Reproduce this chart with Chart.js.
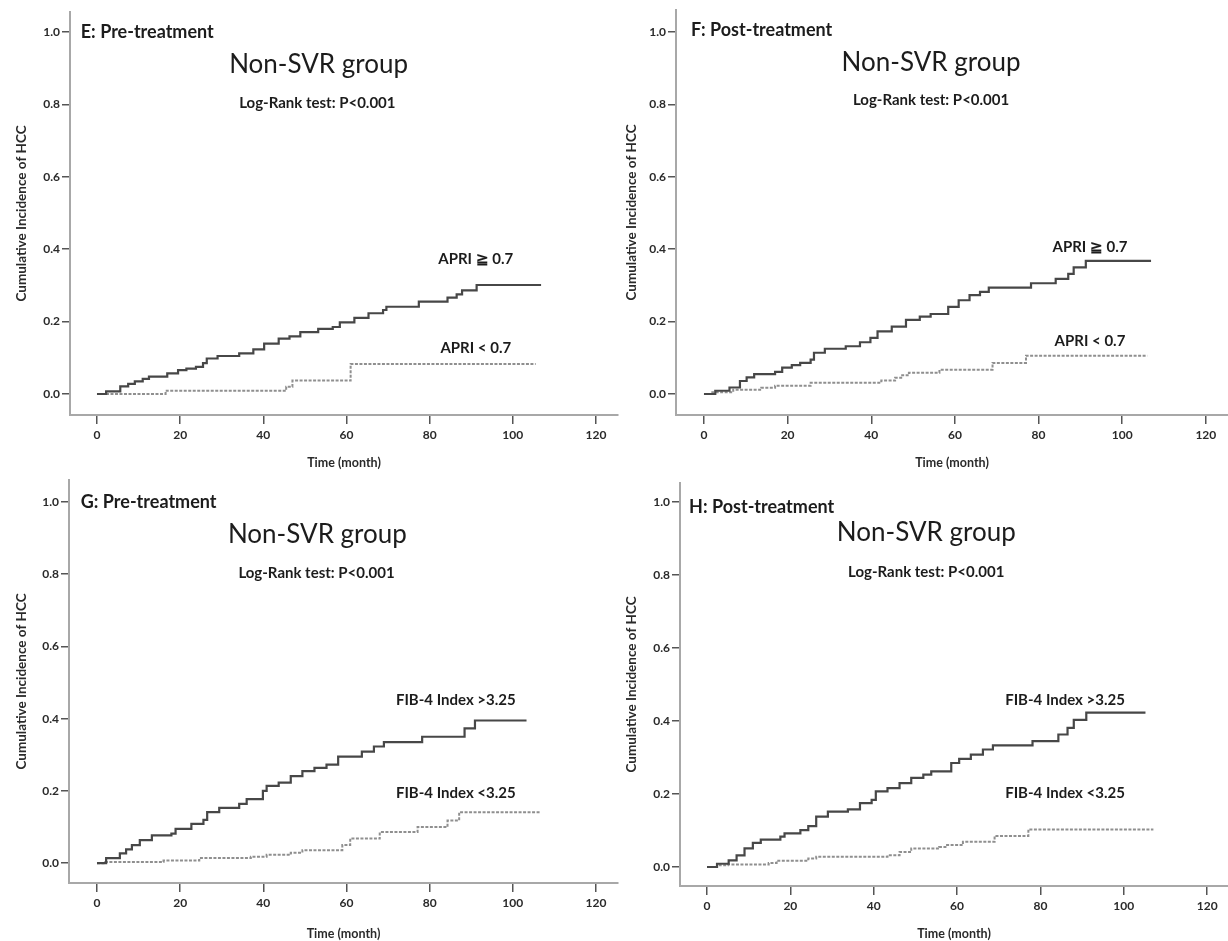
<!DOCTYPE html>
<html>
<head>
<meta charset="utf-8">
<script src="https://cdn.jsdelivr.net/npm/chart.js@4.4.1/dist/chart.umd.min.js"></script>
<style>
  body { margin: 0; background: #fff; }
  .panel { position: absolute; }
</style>
</head>
<body>
<canvas id="panelE" class="panel" width="620" height="470" style="left:0;top:0"></canvas>
<canvas id="panelF" class="panel" width="618" height="470" style="left:610px;top:0"></canvas>
<canvas id="panelG" class="panel" width="620" height="471" style="left:0;top:470px"></canvas>
<canvas id="panelH" class="panel" width="618" height="471" style="left:610px;top:470px"></canvas>
<script>
// tick labels shared by all panels
const xTicks = [0, 20, 40, 60, 80, 100, 120];
const yTicks = [0, 0.2, 0.4, 0.6, 0.8, 1.0];

// E: pre-treatment APRI
const apriHighPreT = [0, 2.2, 5.6, 7.5, 9.1, 11, 12.5, 16.9, 19.5, 21.5, 23.8, 25.5, 26.4, 29, 34.2, 37.6, 40.2, 43.7, 46.3, 48.9, 53.2, 56.7, 58.4, 61.9, 65.3, 68.8, 69.6, 77.4, 84.3, 86.5, 87.8, 91.3, 106.8];
const apriHighPreV = [0, 0.007, 0.021, 0.028, 0.035, 0.042, 0.048, 0.057, 0.066, 0.07, 0.075, 0.085, 0.098, 0.105, 0.112, 0.123, 0.139, 0.153, 0.159, 0.171, 0.18, 0.185, 0.198, 0.21, 0.223, 0.232, 0.241, 0.255, 0.266, 0.275, 0.286, 0.301, 0.301];
const apriLowPreT = [0, 16.5, 45.5, 47, 61, 105.5];
const apriLowPreV = [0, 0.009, 0.02, 0.037, 0.083, 0.083];

// F: post-treatment APRI
const apriHighPostT = [0, 2.7, 6.1, 8.6, 10.2, 12, 17, 18.7, 21, 23, 25.5, 26.3, 28.9, 33.9, 37.3, 39.8, 41.5, 44.9, 48.3, 51.6, 54.2, 58.4, 60.9, 63.5, 66, 68.1, 78.2, 84.1, 87.1, 88.4, 91.3, 106.9];
const apriHighPostV = [0, 0.009, 0.018, 0.036, 0.046, 0.055, 0.061, 0.073, 0.08, 0.086, 0.095, 0.114, 0.125, 0.132, 0.143, 0.155, 0.173, 0.186, 0.205, 0.214, 0.221, 0.241, 0.259, 0.273, 0.282, 0.294, 0.306, 0.318, 0.332, 0.35, 0.368, 0.368];
const apriLowPostT = [0, 2, 7, 13.7, 17, 25.5, 42.4, 45.7, 47.4, 49, 56.3, 69, 77, 106];
const apriLowPostV = [0, 0.005, 0.012, 0.017, 0.023, 0.031, 0.037, 0.045, 0.052, 0.059, 0.067, 0.086, 0.106, 0.106];

// G: pre-treatment FIB-4
const fibHighPreT = [0, 2.2, 5.5, 7, 8.4, 10.3, 13.2, 17.9, 18.9, 22.7, 25.6, 26.5, 29.4, 34.2, 36, 39.9, 40.8, 43.7, 46.6, 49.4, 52.3, 55.2, 58, 63.7, 66.6, 69, 78.2, 88.4, 90.9, 103.3];
const fibHighPreV = [0, 0.014, 0.027, 0.038, 0.05, 0.064, 0.077, 0.082, 0.095, 0.109, 0.12, 0.141, 0.153, 0.164, 0.177, 0.2, 0.214, 0.223, 0.241, 0.255, 0.264, 0.273, 0.295, 0.309, 0.323, 0.335, 0.35, 0.373, 0.395, 0.395];
const fibLowPreT = [0, 2, 16, 24.6, 37, 40.8, 46.6, 49.4, 59, 60.9, 68, 77.1, 84.3, 87.1, 106.7];
const fibLowPreV = [0, 0.003, 0.007, 0.014, 0.018, 0.023, 0.029, 0.036, 0.05, 0.068, 0.086, 0.1, 0.118, 0.141, 0.141];

// H: post-treatment FIB-4
const fibHighPostT = [0, 2.4, 5.2, 7.1, 9, 11, 12.9, 17.6, 18.6, 22.4, 24.3, 26.2, 29, 33.8, 36.7, 39.5, 40.5, 43.3, 46.2, 49, 51.9, 53.8, 58.6, 60.5, 63.3, 66.2, 68.6, 78.1, 84.3, 86.5, 88, 91, 105.2];
const fibHighPostV = [0, 0.009, 0.018, 0.032, 0.051, 0.066, 0.075, 0.083, 0.092, 0.101, 0.112, 0.138, 0.152, 0.158, 0.175, 0.184, 0.207, 0.216, 0.23, 0.244, 0.253, 0.262, 0.285, 0.296, 0.308, 0.322, 0.333, 0.345, 0.363, 0.381, 0.403, 0.423, 0.423];
const fibLowPostT = [0, 2.4, 5, 14.8, 16.7, 24.3, 26.2, 43.3, 46.2, 49, 55.7, 57.6, 61.4, 69, 77.1, 107.1];
const fibLowPostV = [0, 0.005, 0.007, 0.011, 0.017, 0.023, 0.028, 0.032, 0.041, 0.051, 0.055, 0.06, 0.069, 0.085, 0.103, 0.103];

const FONT = 'Lato, "Open Sans", sans-serif';

function toPoints(ts, vs) {
    return ts.map((t, i) => ({ x: t, y: vs[i] }));
}

function makePanel(id, box, xRange, yRange, high, low, labels) {
    const canvas = document.getElementById(id);
    const ctx = canvas.getContext('2d');

    // free text inside the plot, placed in data coordinates
    const textPlugin = {
        id: 'panelText',
        afterDatasetsDraw(chart) {
            const c = chart.ctx;
            const { x, y } = chart.scales;
            labels.forEach(l => {
                c.save();
                c.font = l.font;
                c.fillStyle = '#1c1c1c';
                c.textAlign = l.align || 'center';
                c.textBaseline = 'middle';
                c.fillText(l.text, x.getPixelForValue(l.x), y.getPixelForValue(l.y));
                c.restore();
            });
        }
    };

    new Chart(ctx, {
        type: 'line',
        data: {
            datasets: [{
                data: toPoints(high[0], high[1]),
                borderColor: '#474747',
                borderWidth: 2.2,
                stepped: 'before',
                pointRadius: 0
            }, {
                data: toPoints(low[0], low[1]),
                borderColor: '#8f8f8f',
                borderWidth: 2,
                borderDash: [3, 1.5],
                stepped: 'before',
                pointRadius: 0
            }]
        },
        options: {
            responsive: false,
            animation: false,
            devicePixelRatio: 1,
            layout: { padding: { top: box.top, right: canvas.width - box.right, left: 0, bottom: 0 } },
            plugins: { legend: { display: false }, tooltip: { enabled: false } },
            scales: {
                x: {
                    type: 'linear',
                    min: xRange[0],
                    max: xRange[1],
                    afterBuildTicks: s => { s.ticks = xTicks.map(v => ({ value: v })); },
                    afterFit: s => { s.height = canvas.height - box.bottom; },
                    border: { display: true, color: '#a8a8a8', width: 2 },
                    grid: { drawOnChartArea: false, drawTicks: true, tickLength: 9, color: '#555', lineWidth: 1.5 },
                    ticks: { color: '#2a2a2a', padding: 4, font: { family: FONT, size: 12, weight: 'bold' }, maxRotation: 0 },
                    title: { display: true, text: 'Time (month)', color: '#2a2a2a', padding: { top: 0, bottom: 0 },
                             font: { family: FONT, size: 12.5, weight: 'bold' } }
                },
                y: {
                    min: yRange[0],
                    max: yRange[1],
                    afterBuildTicks: s => { s.ticks = yTicks.map(v => ({ value: v })); },
                    afterFit: s => { s.width = box.left; },
                    border: { display: true, color: '#a8a8a8', width: 2 },
                    grid: { drawOnChartArea: false, drawTicks: true, tickLength: 8, color: '#555', lineWidth: 1.5 },
                    ticks: { color: '#2a2a2a', padding: 2, font: { family: FONT, size: 12, weight: 'bold' },
                             callback: v => v.toFixed(1) },
                    title: { display: true, text: 'Cumulative Incidence of HCC', color: '#2a2a2a', padding: { top: 14, bottom: 0 },
                             font: { family: FONT, size: 13.5, weight: 'bold' } }
                }
            }
        },
        plugins: [textPlugin]
    });
}

const headFont = 'bold 18px ' + FONT;
const groupFont = '26px ' + FONT;
const testFont = 'bold 15px ' + FONT;
const curveFont = 'bold 15px ' + FONT;

makePanel('panelE', { left: 70, right: 618, top: 12, bottom: 415 }, [-6.49, 125.3], [-0.058, 1.055],
    [apriHighPreT, apriHighPreV], [apriLowPreT, apriLowPreV], [
        { text: 'E: Pre-treatment', x: -3.9, y: 1.0, font: headFont, align: 'left' },
        { text: 'Non-SVR group', x: 53.3, y: 0.909, font: groupFont },
        { text: 'Log-Rank test: P<0.001', x: 53, y: 0.804, font: testFont },
        { text: 'APRI \u2267 0.7', x: 91.1, y: 0.372, font: curveFont },
        { text: 'APRI < 0.7', x: 91.1, y: 0.127, font: curveFont }
    ]);

makePanel('panelF', { left: 66, right: 618, top: 10, bottom: 415 }, [-6.69, 125.3], [-0.058, 1.061],
    [apriHighPostT, apriHighPostV], [apriLowPostT, apriLowPostV], [
        { text: 'F: Post-treatment', x: -3.1, y: 1.005, font: headFont, align: 'left' },
        { text: 'Non-SVR group', x: 54.3, y: 0.917, font: groupFont },
        { text: 'Log-Rank test: P<0.001', x: 54.3, y: 0.812, font: testFont },
        { text: 'APRI \u2267 0.7', x: 92.3, y: 0.406, font: curveFont },
        { text: 'APRI < 0.7', x: 92.3, y: 0.146, font: curveFont }
    ]);

makePanel('panelG', { left: 69, right: 618, top: 10, bottom: 413 }, [-6.73, 125.3], [-0.055, 1.061],
    [fibHighPreT, fibHighPreV], [fibLowPreT, fibLowPreV], [
        { text: 'G: Pre-treatment', x: -3.9, y: 1.0, font: headFont, align: 'left' },
        { text: 'Non-SVR group', x: 53, y: 0.911, font: groupFont },
        { text: 'Log-Rank test: P<0.001', x: 52.8, y: 0.803, font: testFont },
        { text: 'FIB-4 Index >3.25', x: 86.3, y: 0.452, font: curveFont },
        { text: 'FIB-4 Index <3.25', x: 86.3, y: 0.194, font: curveFont }
    ]);

makePanel('panelH', { left: 70, right: 618, top: 13, bottom: 416 }, [-6.48, 125.0], [-0.052, 1.052],
    [fibHighPostT, fibHighPostV], [fibLowPostT, fibLowPostV], [
        { text: 'H: Post-treatment', x: -4.3, y: 0.986, font: headFont, align: 'left' },
        { text: 'Non-SVR group', x: 52.6, y: 0.915, font: groupFont },
        { text: 'Log-Rank test: P<0.001', x: 52.6, y: 0.808, font: testFont },
        { text: 'FIB-4 Index >3.25', x: 85.9, y: 0.458, font: curveFont },
        { text: 'FIB-4 Index <3.25', x: 85.9, y: 0.203, font: curveFont }
    ]);
</script>
</body>
</html>
